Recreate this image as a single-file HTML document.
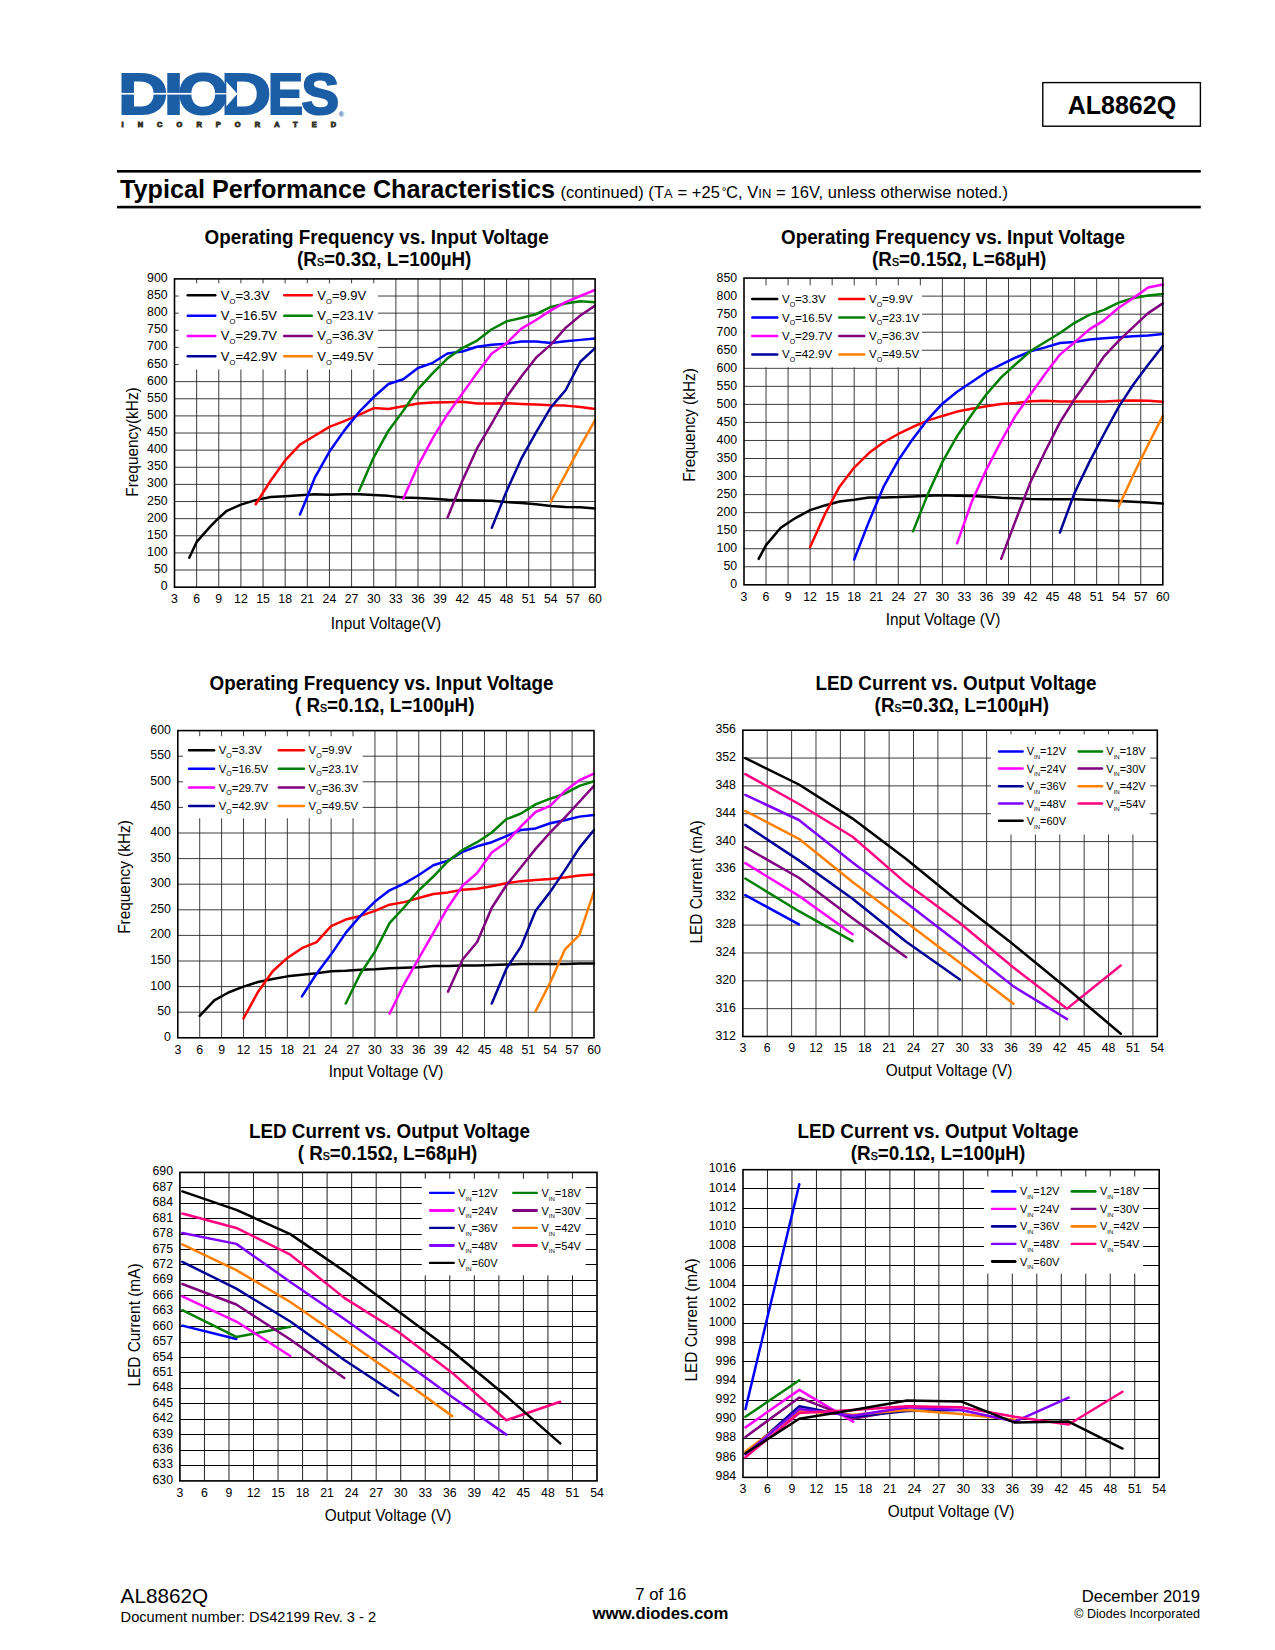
<!DOCTYPE html>
<html lang="en"><head><meta charset="utf-8"><title>AL8862Q - Typical Performance Characteristics</title>
<style>
html,body{margin:0;padding:0;background:#fff;}
body{width:1275px;height:1650px;overflow:hidden;}
svg{display:block;}
svg text{font-family:"Liberation Sans", Arial, Helvetica, sans-serif;fill:#000;}
.ct{font-size:20px;font-weight:bold;text-anchor:middle;}
.cts{font-size:11.2px;font-weight:normal;stroke:#000;stroke-width:0.45px;}
</style></head><body>
<svg width="1275" height="1650" viewBox="0 0 1275 1650">
<rect width="1275" height="1650" fill="#fff"/>
<g id="logo">
<text y="113.8" font-size="57.5" font-weight="bold" style="fill:#1b5ea6;stroke:#1b5ea6;stroke-width:2.2px;stroke-linejoin:miter"><tspan x="118.39" textLength="49.44" lengthAdjust="spacingAndGlyphs">D</tspan><tspan x="163.91" textLength="19.12" lengthAdjust="spacingAndGlyphs">I</tspan><tspan x="177.92" textLength="50.6" lengthAdjust="spacingAndGlyphs">O</tspan><tspan x="221.27" textLength="49.68" lengthAdjust="spacingAndGlyphs">D</tspan><tspan x="267.93" textLength="35.07" lengthAdjust="spacingAndGlyphs">E</tspan><tspan x="301.53" textLength="37.58" lengthAdjust="spacingAndGlyphs">S</tspan></text>
<rect x="121" y="92.9" width="72" height="1.7" fill="#fff"/>
<rect x="191" y="93.1" width="38" height="1.3" fill="#fff"/>
<path d="M226.3 81.5L237.4 93.75L226.3 106.5Z" fill="#fff"/>
<text x="121.5" y="127.3" font-size="7.4" font-weight="bold" textLength="214.5" lengthAdjust="spacing" style="fill:#35342a;stroke:#35342a;stroke-width:0.9px">INCORPORATED</text>
<text x="338.6" y="117.4" font-size="7.6" font-weight="bold" style="fill:#1b5ea6">®</text>
</g>
<rect x="1042.8" y="82.6" width="157.6" height="43.6" fill="#fff" stroke="#000" stroke-width="1.4"/>
<text x="1121.9" y="114.2" font-size="25" font-weight="bold" text-anchor="middle">AL8862Q</text>
<rect x="117" y="170" width="1083.8" height="2.6" fill="#000"/>
<rect x="117" y="205.8" width="1083.8" height="2.6" fill="#000"/>
<text x="120" y="198.2" font-size="25.2" font-weight="bold">Typical Performance Characteristics</text>
<text x="560.5" y="198.2" font-size="16.5" letter-spacing="0.06" xml:space="preserve">(continued) (T<tspan font-size="13">A</tspan> = +25<tspan dx="1.8" dy="-2.6" font-size="12">°</tspan><tspan dy="2.6" dx="-0.6">C, V</tspan><tspan font-size="13">IN</tspan> = 16V, unless otherwise noted.)</text>
<g>
<text class="ct" transform="translate(376.6 244) scale(0.9425 1)">Operating Frequency vs. Input Voltage</text>
<text class="ct" transform="translate(384.2 265.8) scale(0.9425 1)" xml:space="preserve">(R<tspan class="cts">S</tspan>=0.3Ω, L=100µH)</text>
<rect x="174.5" y="278.9" width="420.6" height="308.25" fill="#fff"/>
<path d="M174.5 570.02H595.1M174.5 552.9H595.1M174.5 535.77H595.1M174.5 518.65H595.1M174.5 501.52H595.1M174.5 484.4H595.1M174.5 467.27H595.1M174.5 450.15H595.1M174.5 433.02H595.1M174.5 415.9H595.1M174.5 398.77H595.1M174.5 381.65H595.1M174.5 364.52H595.1M174.5 347.4H595.1M174.5 330.27H595.1M174.5 313.15H595.1M174.5 296.02H595.1" stroke="#222" stroke-width="0.88" fill="none"/>
<path d="M196.64 278.9V587.15M218.77 278.9V587.15M240.91 278.9V587.15M263.05 278.9V587.15M285.18 278.9V587.15M307.32 278.9V587.15M329.46 278.9V587.15M351.59 278.9V587.15M373.73 278.9V587.15M395.87 278.9V587.15M418.01 278.9V587.15M440.14 278.9V587.15M462.28 278.9V587.15M484.42 278.9V587.15M506.55 278.9V587.15M528.69 278.9V587.15M550.83 278.9V587.15M572.96 278.9V587.15" stroke="#222" stroke-width="0.88" fill="none"/>
<rect x="178.6" y="283.3" width="199.4" height="86.2" fill="#fff"/>
<clipPath id="cp1"><rect x="173.5" y="277.9" width="422.8" height="310.25"/></clipPath>
<g clip-path="url(#cp1)" fill="none" stroke-width="2.5" stroke-linejoin="round" stroke-linecap="round">
<path d="M189.26 557.69L196.64 541.94L210.66 526.18L218.77 517.96L226.89 510.77L240.91 504.61L255.67 500.15L270.43 497.07L285.18 496.22L299.94 495.36L314.7 494.33L329.46 494.67L344.22 494.16L358.97 494.16L373.73 495.02L388.49 495.87L403.25 497.41L418.01 498.1L432.76 498.78L447.52 499.81L462.28 500.15L477.04 500.5L491.79 500.84L506.55 502.04L521.31 502.89L536.07 504.26L550.83 505.98L565.58 507L580.34 507.35L595.1 508.38" stroke="#000000"/>
<path d="M255.67 504.26L270.43 480.97L285.18 460.42L299.94 444.67L314.7 435.76L329.46 426.86L344.22 421.04L358.97 414.87L373.73 408.02L388.49 409.05L403.25 406.31L418.01 403.57L432.76 402.54L447.52 402.2L462.28 401.86L477.04 403.57L491.79 403.57L506.55 403.23L521.31 403.91L536.07 404.6L550.83 405.28L565.58 405.62L580.34 407L595.1 409.05" stroke="#ff0000"/>
<path d="M299.94 514.54L307.32 496.73L314.7 477.89L329.46 451.52L344.22 430.63L358.97 412.13L373.73 397.06L388.49 384.05L403.25 379.25L418.01 367.95L432.76 362.81L447.52 353.56L462.28 351.51L477.04 346.71L491.79 344.66L506.55 343.63L521.31 341.58L536.07 341.58L550.83 342.95L565.58 341.23L580.34 339.87L595.1 338.5" stroke="#0000ff"/>
<path d="M358.97 490.91L373.73 457.34L388.49 430.63L403.25 410.76L418.01 389.18L432.76 373.09L447.52 358.36L462.28 348.08L477.04 340.55L491.79 329.25L506.55 321.37L521.31 317.94L536.07 314.18L550.83 306.99L565.58 303.56L580.34 301.16L595.1 302.19" stroke="#008000"/>
<path d="M403.25 498.78L418.01 465.56L432.76 438.16L447.52 414.19L462.28 393.64L477.04 373.09L491.79 353.56L506.55 343.29L521.31 328.56L536.07 320L550.83 310.41L565.58 302.19L580.34 296.02L595.1 289.86" stroke="#ff00ff"/>
<path d="M447.52 517.62L462.28 480.97L477.04 448.44L491.79 423.43L506.55 397.06L521.31 376.51L536.07 357.67L550.83 344.66L565.58 327.88L580.34 315.55L595.1 305.61" stroke="#800080"/>
<path d="M491.79 527.9L506.55 491.25L521.31 458.71L536.07 432.34L550.83 407.34L565.58 390.21L580.34 361.78L595.1 348.08" stroke="#000099"/>
<path d="M550.83 501.52L565.58 474.12L580.34 446.04L595.1 420.01" stroke="#ff8000"/>
</g>
<rect x="174.5" y="278.9" width="420.6" height="308.25" fill="none" stroke="#000" stroke-width="1.6"/>
<path d="M187.75 295.2H215.25" stroke="#000000" stroke-width="2.5" stroke-linecap="round"/>
<text x="220.8" y="299.5" font-size="13">V<tspan font-size="7.6" dy="4">O</tspan><tspan dy="-4">=3.3V</tspan></text>
<path d="M284.25 295.2H311.75" stroke="#ff0000" stroke-width="2.5" stroke-linecap="round"/>
<text x="317.3" y="299.5" font-size="13">V<tspan font-size="7.6" dy="4">O</tspan><tspan dy="-4">=9.9V</tspan></text>
<path d="M187.75 315.7H215.25" stroke="#0000ff" stroke-width="2.5" stroke-linecap="round"/>
<text x="220.8" y="320" font-size="13">V<tspan font-size="7.6" dy="4">O</tspan><tspan dy="-4">=16.5V</tspan></text>
<path d="M284.25 315.7H311.75" stroke="#008000" stroke-width="2.5" stroke-linecap="round"/>
<text x="317.3" y="320" font-size="13">V<tspan font-size="7.6" dy="4">O</tspan><tspan dy="-4">=23.1V</tspan></text>
<path d="M187.75 336H215.25" stroke="#ff00ff" stroke-width="2.5" stroke-linecap="round"/>
<text x="220.8" y="340.3" font-size="13">V<tspan font-size="7.6" dy="4">O</tspan><tspan dy="-4">=29.7V</tspan></text>
<path d="M284.25 336H311.75" stroke="#800080" stroke-width="2.5" stroke-linecap="round"/>
<text x="317.3" y="340.3" font-size="13">V<tspan font-size="7.6" dy="4">O</tspan><tspan dy="-4">=36.3V</tspan></text>
<path d="M187.75 356.3H215.25" stroke="#000099" stroke-width="2.5" stroke-linecap="round"/>
<text x="220.8" y="360.6" font-size="13">V<tspan font-size="7.6" dy="4">O</tspan><tspan dy="-4">=42.9V</tspan></text>
<path d="M284.25 356.3H311.75" stroke="#ff8000" stroke-width="2.5" stroke-linecap="round"/>
<text x="317.3" y="360.6" font-size="13">V<tspan font-size="7.6" dy="4">O</tspan><tspan dy="-4">=49.5V</tspan></text>
<g font-size="12.3" text-anchor="end">
<text x="167.6" y="590.15">0</text>
<text x="167.6" y="573.02">50</text>
<text x="167.6" y="555.9">100</text>
<text x="167.6" y="538.77">150</text>
<text x="167.6" y="521.65">200</text>
<text x="167.6" y="504.52">250</text>
<text x="167.6" y="487.4">300</text>
<text x="167.6" y="470.27">350</text>
<text x="167.6" y="453.15">400</text>
<text x="167.6" y="436.02">450</text>
<text x="167.6" y="418.9">500</text>
<text x="167.6" y="401.77">550</text>
<text x="167.6" y="384.65">600</text>
<text x="167.6" y="367.52">650</text>
<text x="167.6" y="350.4">700</text>
<text x="167.6" y="333.27">750</text>
<text x="167.6" y="316.15">800</text>
<text x="167.6" y="299.02">850</text>
<text x="167.6" y="281.9">900</text>
</g>
<g font-size="12.3" text-anchor="middle">
<text x="174.5" y="602.7">3</text>
<text x="196.64" y="602.7">6</text>
<text x="218.77" y="602.7">9</text>
<text x="240.91" y="602.7">12</text>
<text x="263.05" y="602.7">15</text>
<text x="285.18" y="602.7">18</text>
<text x="307.32" y="602.7">21</text>
<text x="329.46" y="602.7">24</text>
<text x="351.59" y="602.7">27</text>
<text x="373.73" y="602.7">30</text>
<text x="395.87" y="602.7">33</text>
<text x="418.01" y="602.7">36</text>
<text x="440.14" y="602.7">39</text>
<text x="462.28" y="602.7">42</text>
<text x="484.42" y="602.7">45</text>
<text x="506.55" y="602.7">48</text>
<text x="528.69" y="602.7">51</text>
<text x="550.83" y="602.7">54</text>
<text x="572.96" y="602.7">57</text>
<text x="595.1" y="602.7">60</text>
</g>
<text transform="translate(386 628.8) scale(0.95 1)" font-size="16.2" text-anchor="middle">Input Voltage(V)</text>
<text transform="translate(137.6 442) rotate(-90) scale(0.95 1)" font-size="16.2" text-anchor="middle">Frequency(kHz)</text>
</g>
<g>
<text class="ct" transform="translate(953 244) scale(0.9425 1)">Operating Frequency vs. Input Voltage</text>
<text class="ct" transform="translate(959.2 265.8) scale(0.9425 1)" xml:space="preserve">(R<tspan class="cts">S</tspan>=0.15Ω, L=68µH)</text>
<rect x="744" y="278.1" width="418.8" height="306.7" fill="#fff"/>
<path d="M744 566.76H1162.8M744 548.72H1162.8M744 530.68H1162.8M744 512.64H1162.8M744 494.59H1162.8M744 476.55H1162.8M744 458.51H1162.8M744 440.47H1162.8M744 422.43H1162.8M744 404.39H1162.8M744 386.35H1162.8M744 368.31H1162.8M744 350.26H1162.8M744 332.22H1162.8M744 314.18H1162.8M744 296.14H1162.8" stroke="#222" stroke-width="0.88" fill="none"/>
<path d="M766.04 278.1V584.8M788.08 278.1V584.8M810.13 278.1V584.8M832.17 278.1V584.8M854.21 278.1V584.8M876.25 278.1V584.8M898.29 278.1V584.8M920.34 278.1V584.8M942.38 278.1V584.8M964.42 278.1V584.8M986.46 278.1V584.8M1008.51 278.1V584.8M1030.55 278.1V584.8M1052.59 278.1V584.8M1074.63 278.1V584.8M1096.67 278.1V584.8M1118.72 278.1V584.8M1140.76 278.1V584.8" stroke="#222" stroke-width="0.88" fill="none"/>
<rect x="744.8" y="285.4" width="177.2" height="81.9" fill="#fff"/>
<clipPath id="cp2"><rect x="743" y="277.1" width="421" height="308.7"/></clipPath>
<g clip-path="url(#cp2)" fill="none" stroke-width="2.5" stroke-linejoin="round" stroke-linecap="round">
<path d="M758.69 558.82L766.04 545.11L780.74 527.79L795.43 518.05L810.13 510.11L824.82 505.42L839.52 501.45L854.21 499.65L868.91 497.48L883.6 497.48L898.29 497.12L912.99 496.4L927.68 495.68L942.38 495.32L957.07 495.68L971.77 496.04L986.46 496.76L1001.16 497.84L1015.85 498.2L1030.55 498.92L1045.24 499.28L1059.94 499.28L1074.63 499.28L1089.33 499.65L1104.02 500.37L1118.72 501.09L1133.41 501.81L1148.11 502.53L1162.8 503.61" stroke="#000000"/>
<path d="M810.13 546.91L824.82 514.44L839.52 486.66L854.21 467.53L868.91 453.1L883.6 442.27L898.29 433.98L912.99 426.76L927.68 420.63L942.38 415.93L957.07 411.6L971.77 408.72L986.46 406.19L1001.16 404.03L1015.85 402.94L1030.55 401.14L1045.24 400.78L1059.94 401.5L1074.63 401.5L1089.33 401.5L1104.02 401.5L1118.72 400.78L1133.41 400.42L1148.11 400.78L1162.8 401.86" stroke="#ff0000"/>
<path d="M854.21 559.54L868.91 521.66L883.6 486.66L898.29 460.32L912.99 438.67L927.68 419.54L942.38 403.67L957.07 391.76L971.77 382.02L986.46 371.91L1001.16 364.7L1015.85 357.48L1030.55 351.35L1045.24 347.38L1059.94 343.05L1074.63 341.97L1089.33 339.44L1104.02 338.36L1118.72 337.28L1133.41 336.19L1148.11 335.47L1162.8 334.03" stroke="#0000ff"/>
<path d="M912.99 531.4L927.68 494.59L942.38 462.12L957.07 436.14L971.77 414.49L986.46 394.29L1001.16 377.33L1015.85 363.98L1030.55 350.99L1045.24 341.97L1059.94 332.95L1074.63 322.84L1089.33 314.9L1104.02 309.85L1118.72 302.64L1133.41 297.95L1148.11 295.42L1162.8 293.98" stroke="#008000"/>
<path d="M957.07 543.31L971.77 501.81L986.46 469.34L1001.16 441.19L1015.85 415.21L1030.55 394.29L1045.24 373.72L1059.94 354.59L1074.63 342.33L1089.33 329.34L1104.02 320.32L1118.72 307.69L1133.41 297.95L1148.11 287.48L1162.8 284.59" stroke="#ff00ff"/>
<path d="M1001.16 558.82L1015.85 519.85L1030.55 481.97L1045.24 451.3L1059.94 422.43L1074.63 398.98L1089.33 378.41L1104.02 356.4L1118.72 340.88L1133.41 326.81L1148.11 313.1L1162.8 303.36" stroke="#800080"/>
<path d="M1059.94 532.48L1074.63 492.79L1089.33 462.12L1104.02 433.98L1118.72 406.91L1133.41 384.54L1148.11 364.7L1162.8 345.93" stroke="#000099"/>
<path d="M1118.72 506.5L1133.41 474.75L1148.11 444.8L1162.8 415.93" stroke="#ff8000"/>
</g>
<rect x="744" y="278.1" width="418.8" height="306.7" fill="none" stroke="#000" stroke-width="1.6"/>
<path d="M752.25 298.9H777.25" stroke="#000000" stroke-width="2.5" stroke-linecap="round"/>
<text x="781.9" y="302.9" font-size="11.6">V<tspan font-size="7" dy="3.6">O</tspan><tspan dy="-3.6">=3.3V</tspan></text>
<path d="M839.25 298.9H864.25" stroke="#ff0000" stroke-width="2.5" stroke-linecap="round"/>
<text x="868.9" y="302.9" font-size="11.6">V<tspan font-size="7" dy="3.6">O</tspan><tspan dy="-3.6">=9.9V</tspan></text>
<path d="M752.25 317.6H777.25" stroke="#0000ff" stroke-width="2.5" stroke-linecap="round"/>
<text x="781.9" y="321.6" font-size="11.6">V<tspan font-size="7" dy="3.6">O</tspan><tspan dy="-3.6">=16.5V</tspan></text>
<path d="M839.25 317.6H864.25" stroke="#008000" stroke-width="2.5" stroke-linecap="round"/>
<text x="868.9" y="321.6" font-size="11.6">V<tspan font-size="7" dy="3.6">O</tspan><tspan dy="-3.6">=23.1V</tspan></text>
<path d="M752.25 336H777.25" stroke="#ff00ff" stroke-width="2.5" stroke-linecap="round"/>
<text x="781.9" y="340" font-size="11.6">V<tspan font-size="7" dy="3.6">O</tspan><tspan dy="-3.6">=29.7V</tspan></text>
<path d="M839.25 336H864.25" stroke="#800080" stroke-width="2.5" stroke-linecap="round"/>
<text x="868.9" y="340" font-size="11.6">V<tspan font-size="7" dy="3.6">O</tspan><tspan dy="-3.6">=36.3V</tspan></text>
<path d="M752.25 354.4H777.25" stroke="#000099" stroke-width="2.5" stroke-linecap="round"/>
<text x="781.9" y="358.4" font-size="11.6">V<tspan font-size="7" dy="3.6">O</tspan><tspan dy="-3.6">=42.9V</tspan></text>
<path d="M839.25 354.4H864.25" stroke="#ff8000" stroke-width="2.5" stroke-linecap="round"/>
<text x="868.9" y="358.4" font-size="11.6">V<tspan font-size="7" dy="3.6">O</tspan><tspan dy="-3.6">=49.5V</tspan></text>
<g font-size="12.3" text-anchor="end">
<text x="737.1" y="588.3">0</text>
<text x="737.1" y="570.26">50</text>
<text x="737.1" y="552.22">100</text>
<text x="737.1" y="534.18">150</text>
<text x="737.1" y="516.14">200</text>
<text x="737.1" y="498.09">250</text>
<text x="737.1" y="480.05">300</text>
<text x="737.1" y="462.01">350</text>
<text x="737.1" y="443.97">400</text>
<text x="737.1" y="425.93">450</text>
<text x="737.1" y="407.89">500</text>
<text x="737.1" y="389.85">550</text>
<text x="737.1" y="371.81">600</text>
<text x="737.1" y="353.76">650</text>
<text x="737.1" y="335.72">700</text>
<text x="737.1" y="317.68">750</text>
<text x="737.1" y="299.64">800</text>
<text x="737.1" y="281.6">850</text>
</g>
<g font-size="12.3" text-anchor="middle">
<text x="744" y="600.5">3</text>
<text x="766.04" y="600.5">6</text>
<text x="788.08" y="600.5">9</text>
<text x="810.13" y="600.5">12</text>
<text x="832.17" y="600.5">15</text>
<text x="854.21" y="600.5">18</text>
<text x="876.25" y="600.5">21</text>
<text x="898.29" y="600.5">24</text>
<text x="920.34" y="600.5">27</text>
<text x="942.38" y="600.5">30</text>
<text x="964.42" y="600.5">33</text>
<text x="986.46" y="600.5">36</text>
<text x="1008.51" y="600.5">39</text>
<text x="1030.55" y="600.5">42</text>
<text x="1052.59" y="600.5">45</text>
<text x="1074.63" y="600.5">48</text>
<text x="1096.67" y="600.5">51</text>
<text x="1118.72" y="600.5">54</text>
<text x="1140.76" y="600.5">57</text>
<text x="1162.8" y="600.5">60</text>
</g>
<text transform="translate(943 625) scale(0.95 1)" font-size="16.2" text-anchor="middle">Input Voltage (V)</text>
<text transform="translate(695 425) rotate(-90) scale(0.95 1)" font-size="16.2" text-anchor="middle">Frequency (kHz)</text>
</g>
<g>
<text class="ct" transform="translate(381.5 690) scale(0.9425 1)">Operating Frequency vs. Input Voltage</text>
<text class="ct" transform="translate(384.7 712) scale(0.9425 1)" xml:space="preserve">( R<tspan class="cts">S</tspan>=0.1Ω, L=100µH)</text>
<rect x="177.8" y="730.6" width="416.2" height="307.2" fill="#fff"/>
<path d="M177.8 1012.2H594M177.8 986.6H594M177.8 961H594M177.8 935.4H594M177.8 909.8H594M177.8 884.2H594M177.8 858.6H594M177.8 833H594M177.8 807.4H594M177.8 781.8H594M177.8 756.2H594" stroke="#222" stroke-width="0.88" fill="none"/>
<path d="M199.71 730.6V1037.8M221.61 730.6V1037.8M243.52 730.6V1037.8M265.42 730.6V1037.8M287.33 730.6V1037.8M309.23 730.6V1037.8M331.14 730.6V1037.8M353.04 730.6V1037.8M374.95 730.6V1037.8M396.85 730.6V1037.8M418.76 730.6V1037.8M440.66 730.6V1037.8M462.57 730.6V1037.8M484.47 730.6V1037.8M506.38 730.6V1037.8M528.28 730.6V1037.8M550.19 730.6V1037.8M572.09 730.6V1037.8" stroke="#222" stroke-width="0.88" fill="none"/>
<rect x="183" y="736.2" width="179.7" height="82.1" fill="#fff"/>
<clipPath id="cp3"><rect x="176.8" y="729.6" width="418.4" height="309.2"/></clipPath>
<g clip-path="url(#cp3)" fill="none" stroke-width="2.5" stroke-linejoin="round" stroke-linecap="round">
<path d="M199.71 1015.78L214.31 1000.42L228.91 992.23L243.52 986.6L258.12 981.99L272.72 978.92L287.33 976.36L301.93 974.82L316.53 973.29L331.14 971.24L345.74 970.73L360.34 969.7L374.95 969.19L389.55 968.17L404.15 967.66L418.76 967.14L433.36 966.12L447.96 966.12L462.57 965.61L477.17 965.61L491.78 965.1L506.38 964.58L520.98 964.07L535.59 964.07L550.19 964.07L564.79 964.07L579.4 963.56L594 963.56" stroke="#000000"/>
<path d="M243.52 1018.34L258.12 991.72L272.72 971.24L287.33 957.93L301.93 948.2L316.53 942.06L331.14 926.18L345.74 919.53L360.34 915.94L374.95 910.82L389.55 904.68L404.15 902.12L418.76 898.02L433.36 893.93L447.96 892.39L462.57 889.83L477.17 888.81L491.78 886.25L506.38 883.18L520.98 881.13L535.59 880.1L550.19 879.08L564.79 877.54L579.4 875.5L594 874.47" stroke="#ff0000"/>
<path d="M301.93 996.33L316.53 973.8L331.14 954.34L345.74 932.84L360.34 915.94L374.95 901.61L389.55 890.34L404.15 883.69L418.76 874.98L433.36 865.26L447.96 860.65L462.57 851.94L477.17 846.31L491.78 842.22L506.38 836.07L520.98 829.93L535.59 828.39L550.19 823.27L564.79 820.2L579.4 816.62L594 815.08" stroke="#0000ff"/>
<path d="M345.74 1003.5L360.34 973.8L374.95 951.78L389.55 923.11L404.15 907.24L418.76 890.34L433.36 876.52L447.96 861.16L462.57 849.9L477.17 842.22L491.78 832.49L506.38 819.18L520.98 813.54L535.59 804.33L550.19 798.7L564.79 793.58L579.4 785.9L594 781.29" stroke="#008000"/>
<path d="M389.55 1013.74L404.15 984.04L418.76 958.44L433.36 932.84L447.96 907.24L462.57 885.74L477.17 872.94L491.78 852.46L506.38 842.22L520.98 826.34L535.59 812.01L550.19 805.86L564.79 791.02L579.4 780.26L594 773.61" stroke="#ff00ff"/>
<path d="M447.96 991.72L462.57 959.46L477.17 942.06L491.78 907.75L506.38 885.22L520.98 867.3L535.59 848.87L550.19 832.49L564.79 817.64L579.4 801.77L594 785.9" stroke="#800080"/>
<path d="M491.78 1003.5L506.38 968.68L520.98 946.66L535.59 910.82L550.19 891.88L564.79 870.38L579.4 847.85L594 829.93" stroke="#000099"/>
<path d="M535.59 1011.18L550.19 982.5L564.79 949.74L579.4 934.89L594 891.37" stroke="#ff8000"/>
</g>
<rect x="177.8" y="730.6" width="416.2" height="307.2" fill="none" stroke="#000" stroke-width="1.6"/>
<path d="M189.05 750.3H214.05" stroke="#000000" stroke-width="2.5" stroke-linecap="round"/>
<text x="218.7" y="754.3" font-size="11.4">V<tspan font-size="7" dy="3.6">O</tspan><tspan dy="-3.6">=3.3V</tspan></text>
<path d="M278.75 750.3H303.95" stroke="#ff0000" stroke-width="2.5" stroke-linecap="round"/>
<text x="308.6" y="754.3" font-size="11.4">V<tspan font-size="7" dy="3.6">O</tspan><tspan dy="-3.6">=9.9V</tspan></text>
<path d="M189.05 768.7H214.05" stroke="#0000ff" stroke-width="2.5" stroke-linecap="round"/>
<text x="218.7" y="772.7" font-size="11.4">V<tspan font-size="7" dy="3.6">O</tspan><tspan dy="-3.6">=16.5V</tspan></text>
<path d="M278.75 768.7H303.95" stroke="#008000" stroke-width="2.5" stroke-linecap="round"/>
<text x="308.6" y="772.7" font-size="11.4">V<tspan font-size="7" dy="3.6">O</tspan><tspan dy="-3.6">=23.1V</tspan></text>
<path d="M189.05 787.5H214.05" stroke="#ff00ff" stroke-width="2.5" stroke-linecap="round"/>
<text x="218.7" y="791.5" font-size="11.4">V<tspan font-size="7" dy="3.6">O</tspan><tspan dy="-3.6">=29.7V</tspan></text>
<path d="M278.75 787.5H303.95" stroke="#800080" stroke-width="2.5" stroke-linecap="round"/>
<text x="308.6" y="791.5" font-size="11.4">V<tspan font-size="7" dy="3.6">O</tspan><tspan dy="-3.6">=36.3V</tspan></text>
<path d="M189.05 806H214.05" stroke="#000099" stroke-width="2.5" stroke-linecap="round"/>
<text x="218.7" y="810" font-size="11.4">V<tspan font-size="7" dy="3.6">O</tspan><tspan dy="-3.6">=42.9V</tspan></text>
<path d="M278.75 806H303.95" stroke="#ff8000" stroke-width="2.5" stroke-linecap="round"/>
<text x="308.6" y="810" font-size="11.4">V<tspan font-size="7" dy="3.6">O</tspan><tspan dy="-3.6">=49.5V</tspan></text>
<g font-size="12.3" text-anchor="end">
<text x="170.9" y="1040.8">0</text>
<text x="170.9" y="1015.2">50</text>
<text x="170.9" y="989.6">100</text>
<text x="170.9" y="964">150</text>
<text x="170.9" y="938.4">200</text>
<text x="170.9" y="912.8">250</text>
<text x="170.9" y="887.2">300</text>
<text x="170.9" y="861.6">350</text>
<text x="170.9" y="836">400</text>
<text x="170.9" y="810.4">450</text>
<text x="170.9" y="784.8">500</text>
<text x="170.9" y="759.2">550</text>
<text x="170.9" y="733.6">600</text>
</g>
<g font-size="12.3" text-anchor="middle">
<text x="177.8" y="1054">3</text>
<text x="199.71" y="1054">6</text>
<text x="221.61" y="1054">9</text>
<text x="243.52" y="1054">12</text>
<text x="265.42" y="1054">15</text>
<text x="287.33" y="1054">18</text>
<text x="309.23" y="1054">21</text>
<text x="331.14" y="1054">24</text>
<text x="353.04" y="1054">27</text>
<text x="374.95" y="1054">30</text>
<text x="396.85" y="1054">33</text>
<text x="418.76" y="1054">36</text>
<text x="440.66" y="1054">39</text>
<text x="462.57" y="1054">42</text>
<text x="484.47" y="1054">45</text>
<text x="506.38" y="1054">48</text>
<text x="528.28" y="1054">51</text>
<text x="550.19" y="1054">54</text>
<text x="572.09" y="1054">57</text>
<text x="594" y="1054">60</text>
</g>
<text transform="translate(386 1077) scale(0.95 1)" font-size="16.2" text-anchor="middle">Input Voltage (V)</text>
<text transform="translate(130 877) rotate(-90) scale(0.95 1)" font-size="16.2" text-anchor="middle">Frequency (kHz)</text>
</g>
<g>
<text class="ct" transform="translate(956 690) scale(0.9425 1)">LED Current vs. Output Voltage</text>
<text class="ct" transform="translate(961.8 712) scale(0.9425 1)" xml:space="preserve">(R<tspan class="cts">S</tspan>=0.3Ω, L=100µH)</text>
<rect x="742.85" y="730.2" width="414.45" height="306.3" fill="#fff"/>
<path d="M742.85 1008.65H1157.3M742.85 980.81H1157.3M742.85 952.96H1157.3M742.85 925.12H1157.3M742.85 897.27H1157.3M742.85 869.43H1157.3M742.85 841.58H1157.3M742.85 813.74H1157.3M742.85 785.89H1157.3M742.85 758.05H1157.3" stroke="#222" stroke-width="0.88" fill="none"/>
<path d="M767.23 730.2V1036.5M791.61 730.2V1036.5M815.99 730.2V1036.5M840.37 730.2V1036.5M864.75 730.2V1036.5M889.13 730.2V1036.5M913.51 730.2V1036.5M937.89 730.2V1036.5M962.26 730.2V1036.5M986.64 730.2V1036.5M1011.02 730.2V1036.5M1035.4 730.2V1036.5M1059.78 730.2V1036.5M1084.16 730.2V1036.5M1108.54 730.2V1036.5M1132.92 730.2V1036.5" stroke="#222" stroke-width="0.88" fill="none"/>
<rect x="991" y="734.4" width="159.2" height="100.1" fill="#fff"/>
<clipPath id="cp4"><rect x="741.85" y="729.2" width="416.65" height="308.3"/></clipPath>
<g clip-path="url(#cp4)" fill="none" stroke-width="2.5" stroke-linejoin="round" stroke-linecap="round">
<path d="M745.29 895.18L798.92 924.42" stroke="#0000ff"/>
<path d="M745.29 878.48L798.92 911.2L852.56 941.13" stroke="#008000"/>
<path d="M745.29 863.16L798.92 895.88L852.56 934.17" stroke="#ff00ff"/>
<path d="M745.29 847.15L798.92 877.78L852.56 918.16L906.19 957.14" stroke="#800080"/>
<path d="M745.29 824.87L798.92 860.38L852.56 898.66L906.19 941.83L959.83 979.42" stroke="#000099"/>
<path d="M745.29 810.95L798.92 838.8L852.56 881.96L906.19 922.33L959.83 962.71L1013.46 1003.78" stroke="#ff8000"/>
<path d="M745.29 794.94L798.92 820L852.56 862.47L906.19 902.84L959.83 943.91L1013.46 986.38L1067.1 1019.1" stroke="#8000ff"/>
<path d="M745.29 774.06L798.92 803.99L852.56 836.71L906.19 883.35L959.83 923.03L1013.46 967.58L1067.1 1008.65L1120.73 965.49" stroke="#ff0080"/>
<path d="M745.29 758.05L798.92 784.5L852.56 818.61L906.19 858.99L959.83 902.84L1013.46 944.61L1067.1 988.47L1120.73 1033.72" stroke="#000000"/>
</g>
<rect x="742.85" y="730.2" width="414.45" height="306.3" fill="none" stroke="#000" stroke-width="1.6"/>
<path d="M999.05 751.4H1022.55" stroke="#0000ff" stroke-width="2.5" stroke-linecap="round"/>
<text x="1026.7" y="755.4" font-size="11.0">V<tspan font-size="6.0" dy="3.8">IN</tspan><tspan dy="-3.8">=12V</tspan></text>
<path d="M1078.65 751.4H1102.05" stroke="#008000" stroke-width="2.5" stroke-linecap="round"/>
<text x="1106.3" y="755.4" font-size="11.0">V<tspan font-size="6.0" dy="3.8">IN</tspan><tspan dy="-3.8">=18V</tspan></text>
<path d="M999.05 768.6H1022.55" stroke="#ff00ff" stroke-width="2.5" stroke-linecap="round"/>
<text x="1026.7" y="772.6" font-size="11.0">V<tspan font-size="6.0" dy="3.8">IN</tspan><tspan dy="-3.8">=24V</tspan></text>
<path d="M1078.65 768.6H1102.05" stroke="#800080" stroke-width="2.5" stroke-linecap="round"/>
<text x="1106.3" y="772.6" font-size="11.0">V<tspan font-size="6.0" dy="3.8">IN</tspan><tspan dy="-3.8">=30V</tspan></text>
<path d="M999.05 786.2H1022.55" stroke="#000099" stroke-width="2.5" stroke-linecap="round"/>
<text x="1026.7" y="790.2" font-size="11.0">V<tspan font-size="6.0" dy="3.8">IN</tspan><tspan dy="-3.8">=36V</tspan></text>
<path d="M1078.65 786.2H1102.05" stroke="#ff8000" stroke-width="2.5" stroke-linecap="round"/>
<text x="1106.3" y="790.2" font-size="11.0">V<tspan font-size="6.0" dy="3.8">IN</tspan><tspan dy="-3.8">=42V</tspan></text>
<path d="M999.05 803.5H1022.55" stroke="#8000ff" stroke-width="2.5" stroke-linecap="round"/>
<text x="1026.7" y="807.5" font-size="11.0">V<tspan font-size="6.0" dy="3.8">IN</tspan><tspan dy="-3.8">=48V</tspan></text>
<path d="M1078.65 803.5H1102.05" stroke="#ff0080" stroke-width="2.5" stroke-linecap="round"/>
<text x="1106.3" y="807.5" font-size="11.0">V<tspan font-size="6.0" dy="3.8">IN</tspan><tspan dy="-3.8">=54V</tspan></text>
<path d="M999.05 820.7H1022.55" stroke="#000000" stroke-width="2.5" stroke-linecap="round"/>
<text x="1026.7" y="824.7" font-size="11.0">V<tspan font-size="6.0" dy="3.8">IN</tspan><tspan dy="-3.8">=60V</tspan></text>
<g font-size="12.3" text-anchor="end">
<text x="735.95" y="1039.5">312</text>
<text x="735.95" y="1011.65">316</text>
<text x="735.95" y="983.81">320</text>
<text x="735.95" y="955.96">324</text>
<text x="735.95" y="928.12">328</text>
<text x="735.95" y="900.27">332</text>
<text x="735.95" y="872.43">336</text>
<text x="735.95" y="844.58">340</text>
<text x="735.95" y="816.74">344</text>
<text x="735.95" y="788.89">348</text>
<text x="735.95" y="761.05">352</text>
<text x="735.95" y="733.2">356</text>
</g>
<g font-size="12.3" text-anchor="middle">
<text x="742.85" y="1051.9">3</text>
<text x="767.23" y="1051.9">6</text>
<text x="791.61" y="1051.9">9</text>
<text x="815.99" y="1051.9">12</text>
<text x="840.37" y="1051.9">15</text>
<text x="864.75" y="1051.9">18</text>
<text x="889.13" y="1051.9">21</text>
<text x="913.51" y="1051.9">24</text>
<text x="937.89" y="1051.9">27</text>
<text x="962.26" y="1051.9">30</text>
<text x="986.64" y="1051.9">33</text>
<text x="1011.02" y="1051.9">36</text>
<text x="1035.4" y="1051.9">39</text>
<text x="1059.78" y="1051.9">42</text>
<text x="1084.16" y="1051.9">45</text>
<text x="1108.54" y="1051.9">48</text>
<text x="1132.92" y="1051.9">51</text>
<text x="1157.3" y="1051.9">54</text>
</g>
<text transform="translate(949 1076) scale(0.95 1)" font-size="16.2" text-anchor="middle">Output Voltage (V)</text>
<text transform="translate(702 882) rotate(-90) scale(0.95 1)" font-size="16.2" text-anchor="middle">LED Current (mA)</text>
</g>
<g>
<text class="ct" transform="translate(389.5 1138) scale(0.9425 1)">LED Current vs. Output Voltage</text>
<text class="ct" transform="translate(387.5 1160) scale(0.9425 1)" xml:space="preserve">( R<tspan class="cts">S</tspan>=0.15Ω, L=68µH)</text>
<rect x="179.9" y="1172.4" width="417.1" height="308.5" fill="#fff"/>
<path d="M204.44 1172.4V1480.9M228.97 1172.4V1480.9M253.51 1172.4V1480.9M278.04 1172.4V1480.9M302.58 1172.4V1480.9M327.11 1172.4V1480.9M351.65 1172.4V1480.9M376.18 1172.4V1480.9M400.72 1172.4V1480.9M425.25 1172.4V1480.9M449.79 1172.4V1480.9M474.32 1172.4V1480.9M498.86 1172.4V1480.9M523.39 1172.4V1480.9M547.93 1172.4V1480.9M572.46 1172.4V1480.9" stroke="#222" stroke-width="1.0" fill="none"/>
<path d="M179.9 1465.48H597M179.9 1450.05H597M179.9 1434.62H597M179.9 1419.2H597M179.9 1403.78H597M179.9 1388.35H597M179.9 1372.93H597M179.9 1357.5H597M179.9 1342.08H597M179.9 1326.65H597M179.9 1311.23H597M179.9 1295.8H597M179.9 1280.38H597M179.9 1264.95H597M179.9 1249.53H597M179.9 1234.1H597M179.9 1218.68H597M179.9 1203.25H597M179.9 1187.83H597" stroke="#000" stroke-width="1.0" fill="none" shape-rendering="crispEdges"/>
<rect x="421.8" y="1178.8" width="163.9" height="96.5" fill="#fff"/>
<clipPath id="cp5"><rect x="178.9" y="1171.4" width="419.3" height="310.5"/></clipPath>
<g clip-path="url(#cp5)" fill="none" stroke-width="2.5" stroke-linejoin="round" stroke-linecap="round">
<path d="M182.35 1325.62L236.33 1338.99" stroke="#0000ff"/>
<path d="M182.35 1310.2L236.33 1336.93L290.31 1326.65" stroke="#008000"/>
<path d="M182.35 1296.31L236.33 1321.51L290.31 1355.96" stroke="#ff00ff"/>
<path d="M182.35 1283.97L236.33 1304.54L290.31 1339.5L344.29 1378.07" stroke="#800080"/>
<path d="M182.35 1261.87L236.33 1288.6L290.31 1321.51L344.29 1360.07L398.26 1395.55" stroke="#000099"/>
<path d="M182.35 1244.38L236.33 1270.09L290.31 1301.97L344.29 1339.5L398.26 1377.04L452.24 1416.12" stroke="#ff8000"/>
<path d="M182.35 1233.07L236.33 1243.87L290.31 1281.92L344.29 1318.94L398.26 1357.5L452.24 1397.09L506.22 1434.62" stroke="#8000ff"/>
<path d="M182.35 1213.53L236.33 1227.93L290.31 1254.67L344.29 1297.86L398.26 1331.79L452.24 1372.93L506.22 1420.23L560.2 1401.72" stroke="#ff0080"/>
<path d="M182.35 1191.42L236.33 1209.93L290.31 1234.1L344.29 1271.12L398.26 1311.23L452.24 1351.33L506.22 1396.06L560.2 1443.37" stroke="#000000"/>
</g>
<rect x="179.9" y="1172.4" width="417.1" height="308.5" fill="none" stroke="#000" stroke-width="1.65"/>
<path d="M429.95 1192.9H453.85" stroke="#0000ff" stroke-width="2.1" stroke-linecap="round"/>
<text x="458.2" y="1196.9" font-size="11.0">V<tspan font-size="6.0" dy="3.8">IN</tspan><tspan dy="-3.8">=12V</tspan></text>
<path d="M513.15 1192.9H536.95" stroke="#008000" stroke-width="2.1" stroke-linecap="round"/>
<text x="541.5" y="1196.9" font-size="11.0">V<tspan font-size="6.0" dy="3.8">IN</tspan><tspan dy="-3.8">=18V</tspan></text>
<path d="M430.35 1210.5H453.45" stroke="#ff00ff" stroke-width="2.9" stroke-linecap="round"/>
<text x="458.2" y="1214.5" font-size="11.0">V<tspan font-size="6.0" dy="3.8">IN</tspan><tspan dy="-3.8">=24V</tspan></text>
<path d="M513.55 1210.5H536.55" stroke="#800080" stroke-width="2.9" stroke-linecap="round"/>
<text x="541.5" y="1214.5" font-size="11.0">V<tspan font-size="6.0" dy="3.8">IN</tspan><tspan dy="-3.8">=30V</tspan></text>
<path d="M429.95 1227.9H453.85" stroke="#000099" stroke-width="2.1" stroke-linecap="round"/>
<text x="458.2" y="1231.9" font-size="11.0">V<tspan font-size="6.0" dy="3.8">IN</tspan><tspan dy="-3.8">=36V</tspan></text>
<path d="M513.15 1227.9H536.95" stroke="#ff8000" stroke-width="2.1" stroke-linecap="round"/>
<text x="541.5" y="1231.9" font-size="11.0">V<tspan font-size="6.0" dy="3.8">IN</tspan><tspan dy="-3.8">=42V</tspan></text>
<path d="M430.35 1245.5H453.45" stroke="#8000ff" stroke-width="2.9" stroke-linecap="round"/>
<text x="458.2" y="1249.5" font-size="11.0">V<tspan font-size="6.0" dy="3.8">IN</tspan><tspan dy="-3.8">=48V</tspan></text>
<path d="M513.55 1245.5H536.55" stroke="#ff0080" stroke-width="2.9" stroke-linecap="round"/>
<text x="541.5" y="1249.5" font-size="11.0">V<tspan font-size="6.0" dy="3.8">IN</tspan><tspan dy="-3.8">=54V</tspan></text>
<path d="M430.1 1262.9H453.7" stroke="#000000" stroke-width="2.4" stroke-linecap="round"/>
<text x="458.2" y="1266.9" font-size="11.0">V<tspan font-size="6.0" dy="3.8">IN</tspan><tspan dy="-3.8">=60V</tspan></text>
<g font-size="12.3" text-anchor="end">
<text x="173" y="1483.9">630</text>
<text x="173" y="1468.48">633</text>
<text x="173" y="1453.05">636</text>
<text x="173" y="1437.62">639</text>
<text x="173" y="1422.2">642</text>
<text x="173" y="1406.78">645</text>
<text x="173" y="1391.35">648</text>
<text x="173" y="1375.93">651</text>
<text x="173" y="1360.5">654</text>
<text x="173" y="1345.08">657</text>
<text x="173" y="1329.65">660</text>
<text x="173" y="1314.23">663</text>
<text x="173" y="1298.8">666</text>
<text x="173" y="1283.38">669</text>
<text x="173" y="1267.95">672</text>
<text x="173" y="1252.53">675</text>
<text x="173" y="1237.1">678</text>
<text x="173" y="1221.68">681</text>
<text x="173" y="1206.25">684</text>
<text x="173" y="1190.83">687</text>
<text x="173" y="1175.4">690</text>
</g>
<g font-size="12.3" text-anchor="middle">
<text x="179.9" y="1497">3</text>
<text x="204.44" y="1497">6</text>
<text x="228.97" y="1497">9</text>
<text x="253.51" y="1497">12</text>
<text x="278.04" y="1497">15</text>
<text x="302.58" y="1497">18</text>
<text x="327.11" y="1497">21</text>
<text x="351.65" y="1497">24</text>
<text x="376.18" y="1497">27</text>
<text x="400.72" y="1497">30</text>
<text x="425.25" y="1497">33</text>
<text x="449.79" y="1497">36</text>
<text x="474.32" y="1497">39</text>
<text x="498.86" y="1497">42</text>
<text x="523.39" y="1497">45</text>
<text x="547.93" y="1497">48</text>
<text x="572.46" y="1497">51</text>
<text x="597" y="1497">54</text>
</g>
<text transform="translate(388 1521) scale(0.95 1)" font-size="16.2" text-anchor="middle">Output Voltage (V)</text>
<text transform="translate(140 1325) rotate(-90) scale(0.95 1)" font-size="16.2" text-anchor="middle">LED Current (mA)</text>
</g>
<g>
<text class="ct" transform="translate(938 1138) scale(0.9425 1)">LED Current vs. Output Voltage</text>
<text class="ct" transform="translate(938 1160) scale(0.9425 1)" xml:space="preserve">(R<tspan class="cts">S</tspan>=0.1Ω, L=100µH)</text>
<rect x="743" y="1169.7" width="416.2" height="307.65" fill="#fff"/>
<path d="M767.48 1169.7V1477.35M791.96 1169.7V1477.35M816.45 1169.7V1477.35M840.93 1169.7V1477.35M865.41 1169.7V1477.35M889.89 1169.7V1477.35M914.38 1169.7V1477.35M938.86 1169.7V1477.35M963.34 1169.7V1477.35M987.82 1169.7V1477.35M1012.31 1169.7V1477.35M1036.79 1169.7V1477.35M1061.27 1169.7V1477.35M1085.75 1169.7V1477.35M1110.24 1169.7V1477.35M1134.72 1169.7V1477.35" stroke="#222" stroke-width="1.0" fill="none"/>
<path d="M743 1458.12H1159.2M743 1438.89H1159.2M743 1419.67H1159.2M743 1400.44H1159.2M743 1381.21H1159.2M743 1361.98H1159.2M743 1342.75H1159.2M743 1323.53H1159.2M743 1304.3H1159.2M743 1285.07H1159.2M743 1265.84H1159.2M743 1246.61H1159.2M743 1227.38H1159.2M743 1208.16H1159.2M743 1188.93H1159.2" stroke="#000" stroke-width="1.0" fill="none" shape-rendering="crispEdges"/>
<rect x="984" y="1176.5" width="159.1" height="97.2" fill="#fff"/>
<clipPath id="cp6"><rect x="742" y="1168.7" width="418.4" height="309.65"/></clipPath>
<g clip-path="url(#cp6)" fill="none" stroke-width="2.5" stroke-linejoin="round" stroke-linecap="round">
<path d="M745.45 1409.09L799.31 1184.12" stroke="#0000ff"/>
<path d="M745.45 1416.78L799.31 1380.25" stroke="#008000"/>
<path d="M745.45 1427.36L799.31 1389.86L853.17 1421.59" stroke="#ff00ff"/>
<path d="M745.45 1436.97L799.31 1397.55L853.17 1418.7L907.03 1409.09" stroke="#800080"/>
<path d="M745.45 1454.28L799.31 1406.21L853.17 1416.78L907.03 1411.01L960.89 1410.05" stroke="#000099"/>
<path d="M745.45 1451.39L799.31 1411.01L853.17 1414.86L907.03 1410.05L960.89 1413.9L1014.75 1419.67" stroke="#ff8000"/>
<path d="M745.45 1454.28L799.31 1409.09L853.17 1415.82L907.03 1407.17L960.89 1410.05L1014.75 1421.59L1068.62 1397.55" stroke="#8000ff"/>
<path d="M745.45 1457.16L799.31 1412.94L853.17 1410.05L907.03 1406.21L960.89 1407.17L1014.75 1416.78L1068.62 1424.47L1122.48 1391.78" stroke="#ff0080"/>
<path d="M745.45 1453.31L799.31 1418.7L853.17 1410.05L907.03 1400.44L960.89 1401.4L1014.75 1422.55L1068.62 1421.59L1122.48 1448.51" stroke="#000000"/>
</g>
<rect x="743" y="1169.7" width="416.2" height="307.65" fill="none" stroke="#000" stroke-width="1.6"/>
<path d="M992.25 1191.4H1015.15" stroke="#0000ff" stroke-width="2.9" stroke-linecap="round"/>
<text x="1020" y="1195.4" font-size="11.0">V<tspan font-size="6.0" dy="3.8">IN</tspan><tspan dy="-3.8">=12V</tspan></text>
<path d="M1071.95 1191.4H1095.15" stroke="#008000" stroke-width="2.9" stroke-linecap="round"/>
<text x="1100" y="1195.4" font-size="11.0">V<tspan font-size="6.0" dy="3.8">IN</tspan><tspan dy="-3.8">=18V</tspan></text>
<path d="M991.85 1208.9H1015.55" stroke="#ff00ff" stroke-width="2.1" stroke-linecap="round"/>
<text x="1020" y="1212.9" font-size="11.0">V<tspan font-size="6.0" dy="3.8">IN</tspan><tspan dy="-3.8">=24V</tspan></text>
<path d="M1071.55 1208.9H1095.55" stroke="#800080" stroke-width="2.1" stroke-linecap="round"/>
<text x="1100" y="1212.9" font-size="11.0">V<tspan font-size="6.0" dy="3.8">IN</tspan><tspan dy="-3.8">=30V</tspan></text>
<path d="M992.25 1226.4H1015.15" stroke="#000099" stroke-width="2.9" stroke-linecap="round"/>
<text x="1020" y="1230.4" font-size="11.0">V<tspan font-size="6.0" dy="3.8">IN</tspan><tspan dy="-3.8">=36V</tspan></text>
<path d="M1071.95 1226.4H1095.15" stroke="#ff8000" stroke-width="2.9" stroke-linecap="round"/>
<text x="1100" y="1230.4" font-size="11.0">V<tspan font-size="6.0" dy="3.8">IN</tspan><tspan dy="-3.8">=42V</tspan></text>
<path d="M991.85 1243.9H1015.55" stroke="#8000ff" stroke-width="2.1" stroke-linecap="round"/>
<text x="1020" y="1247.9" font-size="11.0">V<tspan font-size="6.0" dy="3.8">IN</tspan><tspan dy="-3.8">=48V</tspan></text>
<path d="M1071.55 1243.9H1095.55" stroke="#ff0080" stroke-width="2.1" stroke-linecap="round"/>
<text x="1100" y="1247.9" font-size="11.0">V<tspan font-size="6.0" dy="3.8">IN</tspan><tspan dy="-3.8">=54V</tspan></text>
<path d="M992.25 1261.5H1015.15" stroke="#000000" stroke-width="2.9" stroke-linecap="round"/>
<text x="1020" y="1265.5" font-size="11.0">V<tspan font-size="6.0" dy="3.8">IN</tspan><tspan dy="-3.8">=60V</tspan></text>
<g font-size="12.3" text-anchor="end">
<text x="736.1" y="1479.95">984</text>
<text x="736.1" y="1460.72">986</text>
<text x="736.1" y="1441.49">988</text>
<text x="736.1" y="1422.27">990</text>
<text x="736.1" y="1403.04">992</text>
<text x="736.1" y="1383.81">994</text>
<text x="736.1" y="1364.58">996</text>
<text x="736.1" y="1345.35">998</text>
<text x="736.1" y="1326.12">1000</text>
<text x="736.1" y="1306.9">1002</text>
<text x="736.1" y="1287.67">1004</text>
<text x="736.1" y="1268.44">1006</text>
<text x="736.1" y="1249.21">1008</text>
<text x="736.1" y="1229.98">1010</text>
<text x="736.1" y="1210.76">1012</text>
<text x="736.1" y="1191.53">1014</text>
<text x="736.1" y="1172.3">1016</text>
</g>
<g font-size="12.3" text-anchor="middle">
<text x="743" y="1493">3</text>
<text x="767.48" y="1493">6</text>
<text x="791.96" y="1493">9</text>
<text x="816.45" y="1493">12</text>
<text x="840.93" y="1493">15</text>
<text x="865.41" y="1493">18</text>
<text x="889.89" y="1493">21</text>
<text x="914.38" y="1493">24</text>
<text x="938.86" y="1493">27</text>
<text x="963.34" y="1493">30</text>
<text x="987.82" y="1493">33</text>
<text x="1012.31" y="1493">36</text>
<text x="1036.79" y="1493">39</text>
<text x="1061.27" y="1493">42</text>
<text x="1085.75" y="1493">45</text>
<text x="1110.24" y="1493">48</text>
<text x="1134.72" y="1493">51</text>
<text x="1159.2" y="1493">54</text>
</g>
<text transform="translate(951 1517) scale(0.95 1)" font-size="16.2" text-anchor="middle">Output Voltage (V)</text>
<text transform="translate(697 1320) rotate(-90) scale(0.95 1)" font-size="16.2" text-anchor="middle">LED Current (mA)</text>
</g>
<text transform="translate(120.6 1603.3) scale(1.074 1)" font-size="19.3" text-anchor="start">AL8862Q</text>
<text transform="translate(120.6 1622.2) scale(1.045 1)" font-size="14" text-anchor="start">Document number: DS42199 Rev. 3 - 2</text>
<text transform="translate(660.8 1600) scale(1.042 1)" font-size="16" text-anchor="middle">7 of 16</text>
<text transform="translate(660.4 1619.3) scale(1.046 1)" font-size="16" text-anchor="middle" font-weight="bold">www.diodes.com</text>
<text transform="translate(1199.9 1602) scale(1.039 1)" font-size="16" text-anchor="end">December 2019</text>
<text transform="translate(1199.9 1617.7) scale(1.045 1)" font-size="12" text-anchor="end">© Diodes Incorporated</text>
</svg>
</body></html>
